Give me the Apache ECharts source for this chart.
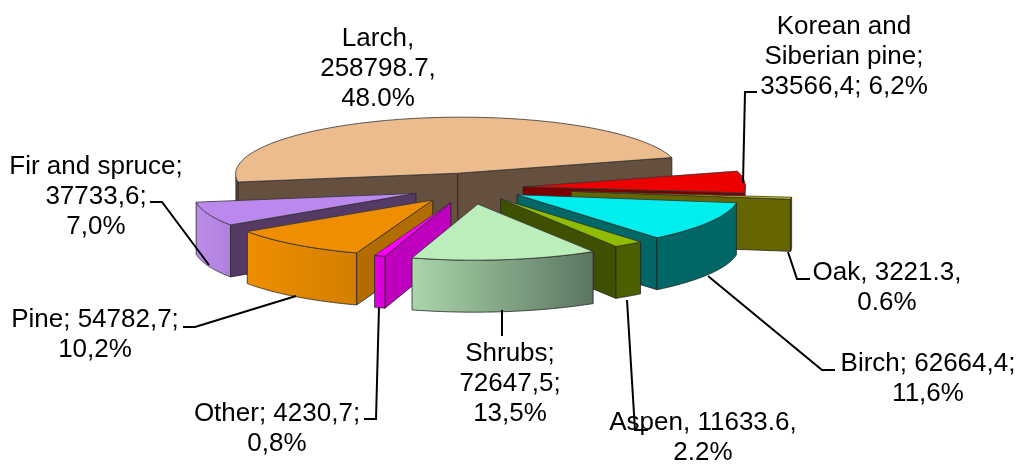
<!DOCTYPE html>
<html><head><meta charset="utf-8">
<style>html,body{margin:0;padding:0;background:#fff}#c{width:1016px;height:464px}</style>
<script src="https://cdn.jsdelivr.net/npm/echarts@6/dist/echarts.min.js"></script>
</head><body><div id="c"></div>
<script>
// ---- data ----
const categories = ['Larch','Korean and Siberian pine','Oak','Birch','Aspen','Shrubs','Other','Pine','Fir and spruce'];
const values = [258798.7,33566.4,3221.3,62664.4,11633.6,72647.5,4230.7,54782.7,37733.6];
const labelTexts = [
  'Larch,\n258798.7,\n48.0%',
  'Korean and\nSiberian pine;\n33566,4; 6,2%',
  'Oak, 3221.3,\n0.6%',
  'Birch; 62664,4;\n11,6%',
  'Aspen, 11633.6,\n2.2%',
  'Shrubs;\n72647,5;\n13,5%',
  'Other; 4230,7;\n0,8%',
  'Pine; 54782,7;\n10,2%',
  'Fir and spruce;\n37733,6;\n7,0%'
];
// ---- style / layout ----
const drawOrder = [0,1,2,3,4,8,7,6,5];
const explode = [0.27,0.24,0.46,0.245,0.24,0.29,0.27,0.27,0.26];
const topColors = ['#ECBB8E','#EE0000','#C8C800','#00EEEE','#8FBC00','#BBEEBB','#FF00FF','#EE8E00','#BB88EE'];
const cutColors = ['#654F3E','#7A0000','#666600','#006666','#3F5000','#5B7560','#BF00BF','#B26C00','#553A66'];
const wallLeft  = ['#654F3E','#CC0000','#787800','#006666','#4A6000','#ABD6AB','#E000E0','#EE8E00','#BB8DE8'];
const wallRight = ['#654F3E','#CC0000','#787800','#006666','#4A6000','#5B7560','#D800D8','#D47E00','#B080DD'];
const CX = 470, CY = 188, RX = 222, RY = 56, DEPTH = 52, START = 186.3;
const SHEAR_X = 0.13, SHEAR_Y = -0.012;
const labelPos = [[378,69],[844,57],[887,288],[928,379],[703,438],[510,384],[277,429],[95,335],[96,197]];
const leaders = [
  [[757,92],[745,92],[743,183]],
  [[810,279],[797,279],[788,252]],
  [[835,370],[822,370],[708,276]],
  [[648,430],[635,430],[627,300]],
  [[502,310],[502,336]],
  [[364,419],[376,419],[379,307]],
  [[183,327],[195,327],[296,296]],
  [[150,202],[162,202],[209,265]]
];

const total = values.reduce((a,b)=>a+b,0);
let run = START;
const slices = values.map((v,i)=>{
  const a1 = run, a2 = run - v/total*360; run = a2;
  const mid = (a1+a2)/2*Math.PI/180;
  return {a1,a2,cx:CX+explode[i]*RX*Math.cos(mid),cy:CY-explode[i]*RY*Math.sin(mid)};
});
function skew(x,y){return [x+SHEAR_X*(y-CY),y+SHEAR_Y*(x-CX)];}
function pt(s,deg){const r=deg*Math.PI/180;return skew(s.cx+RX*Math.cos(r),s.cy-RY*Math.sin(r));}
function down(p){return [p[0],p[1]+DEPTH];}
function face(points,fill,stroke,lw){
  return {type:'polygon',shape:{points},style:{fill,stroke:stroke||'#222',lineWidth:lw||0.8,lineJoin:'round'}};
}
function renderItem(params){
  const i = drawOrder[params.dataIndex], s = slices[i], kids=[];
  const apex=skew(s.cx,s.cy);
  const cuts=[[s.a1,s.a1+90],[s.a2,s.a2-90]];
  cuts.forEach(c=>{
    if(Math.sin(c[1]*Math.PI/180)<-0.001){
      const p=pt(s,c[0]);
      kids.push(face([apex,p,down(p),down(apex)],cutColors[i]));
    }
  });
  // outer wall: only the part of the arc on the viewer's side
  const arc=[];
  for(let k=0;k<=96;k++){
    const d=s.a1+(s.a2-s.a1)*k/96;
    if(Math.sin(d*Math.PI/180)<=0) arc.push(pt(s,d));
  }
  if(arc.length>1){
    const pts=arc.concat(arc.slice().reverse().map(down));
    const fill=new echarts.graphic.LinearGradient(0,0,1,0,[{offset:0,color:wallLeft[i]},{offset:1,color:wallRight[i]}]);
    kids.push(face(pts,fill));
  }
  const top=[apex];
  for(let k=0;k<=96;k++) top.push(pt(s,s.a1+(s.a2-s.a1)*k/96));
  kids.push(face(top,topColors[i],'#333',0.8));
  return {type:'group',children:kids};
}
const graphicEls=[];
leaders.forEach(l=>graphicEls.push({type:'polyline',z:20,silent:true,shape:{points:l},style:{stroke:'#000',lineWidth:2,fill:null}}));
labelTexts.forEach((t,i)=>graphicEls.push({type:'text',z:30,silent:true,x:labelPos[i][0],y:labelPos[i][1],
  style:{text:t,fill:'#000',font:'26px "Liberation Sans", Arial, sans-serif',lineHeight:30,align:'center',verticalAlign:'middle'}}));
const chart=echarts.init(document.getElementById('c'),null,{renderer:'canvas'});
chart.setOption({
  animation:false,
  backgroundColor:'#fff',
  tooltip:{show:false},
  series:[{type:'custom',coordinateSystem:'none',renderItem,silent:true,z:5,
    data:drawOrder.map(i=>({name:categories[i],value:values[i]}))}],
  graphic:{elements:graphicEls}
});
</script></body></html>
